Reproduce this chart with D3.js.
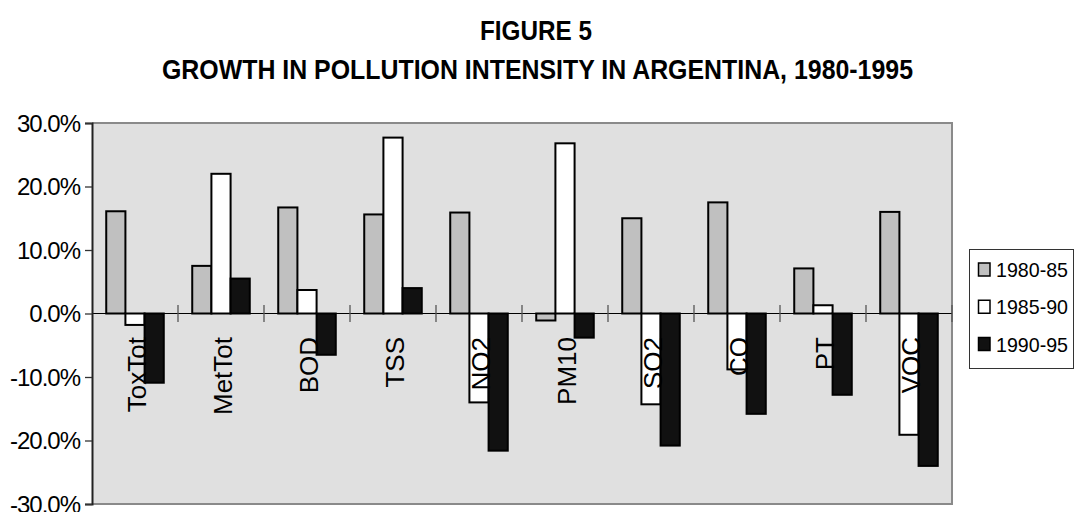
<!DOCTYPE html>
<html>
<head>
<meta charset="utf-8">
<script src="https://cdn.jsdelivr.net/npm/d3@7"></script>
<style>
  html, body { margin: 0; padding: 0; background: #fff; }
  svg { display: block; }
  text { font-family: "Liberation Sans", Arial, sans-serif; fill: #000; }
</style>
</head>
<body>
<svg id="chart" width="1074" height="512"></svg>
<script>
// Pollutant categories and growth in pollution intensity per period (fractions)
const categories = ["ToxTot", "MetTot", "BOD", "TSS", "NO2", "PM10", "SO2", "CO", "PT", "VOC"];
const seriesNames = ["1980-85", "1985-90", "1990-95"];
const growth1980_85 = [0.161, 0.075, 0.167, 0.156, 0.159, -0.011, 0.150, 0.175, 0.071, 0.160];
const growth1985_90 = [-0.018, 0.220, 0.037, 0.277, -0.140, 0.268, -0.143, -0.088, 0.013, -0.191];
const growth1990_95 = [-0.109, 0.055, -0.065, 0.040, -0.216, -0.038, -0.208, -0.158, -0.128, -0.240];
const yTickValues = [-0.3, -0.2, -0.1, 0, 0.1, 0.2, 0.3];
const titleLines = ["FIGURE 5", "GROWTH IN POLLUTION INTENSITY IN ARGENTINA, 1980-1995"];

const seriesValues = [growth1980_85, growth1985_90, growth1990_95];
const seriesFill = ["#c0c0c0", "#ffffff", "#111111"];

const svg = d3.select("#chart");
const plot = { left: 92, right: 952, top: 123, bottom: 504 };

// Titles (condensed bold type)
const titleSpecs = [
  { text: titleLines[0], cx: 536, y: 40, len: 112 },
  { text: titleLines[1], cx: 537.5, y: 79, len: 751 }
];
svg.selectAll("text.title").data(titleSpecs).join("text")
  .attr("class", "title")
  .attr("x", d => d.cx - d.len / 2)
  .attr("y", d => d.y)
  .attr("textLength", d => d.len)
  .attr("lengthAdjust", "spacingAndGlyphs")
  .style("font-size", "28px")
  .style("font-weight", "bold")
  .text(d => d.text);

// Scales
const x = d3.scaleBand().domain(categories)
  .range([plot.left, plot.right]).paddingInner(0.331).paddingOuter(0.1655);
const xSeries = d3.scaleBand().domain(d3.range(seriesNames.length))
  .range([0, x.bandwidth()]).padding(0);
const y = d3.scaleLinear().domain([-0.3, 0.3]).range([plot.bottom, plot.top]);

// Plot area
svg.append("rect")
  .attr("x", plot.left).attr("y", plot.top)
  .attr("width", plot.right - plot.left).attr("height", plot.bottom - plot.top)
  .attr("fill", "#e0e0e0");

// Plot border (top, right, bottom)
svg.append("path")
  .attr("d", `M${plot.left},${plot.top}H${plot.right}V${plot.bottom}H${plot.left}`)
  .attr("fill", "none").attr("stroke", "#8a8a8a").attr("stroke-width", 2);

// Zero line
svg.append("line")
  .attr("x1", plot.left).attr("x2", plot.right)
  .attr("y1", y(0)).attr("y2", y(0))
  .attr("stroke", "#000").attr("stroke-width", 1);

// Category boundary ticks along the zero line
const step = x.step();
svg.selectAll("line.ctick").data(d3.range(1, categories.length + 1)).join("line")
  .attr("class", "ctick")
  .attr("x1", i => plot.left + i * step).attr("x2", i => plot.left + i * step)
  .attr("y1", y(0) - 8.5).attr("y2", y(0) + 8.5)
  .attr("stroke", "#555").attr("stroke-width", 1.3);

// Bars
const barData = [];
categories.forEach((c, ci) => {
  seriesValues.forEach((vals, si) => barData.push({ c, si, v: vals[ci] }));
});
svg.append("g").selectAll("rect").data(barData).join("rect")
  .attr("x", d => x(d.c) + xSeries(d.si))
  .attr("y", d => y(Math.max(0, d.v)))
  .attr("width", xSeries.bandwidth())
  .attr("height", d => Math.abs(y(d.v) - y(0)))
  .attr("fill", d => seriesFill[d.si])
  .attr("stroke", "#000").attr("stroke-width", 2);

// Y axis
const yAxis = d3.axisLeft(y)
  .tickValues(yTickValues)
  .tickFormat(d => d3.format(".1%")(d).replace("\u2212", "-"))
  .tickSize(7).tickPadding(5);
const gy = svg.append("g").attr("transform", `translate(${plot.left},0)`).call(yAxis);
gy.select(".domain").attr("stroke", "#222").attr("stroke-width", 2);
gy.selectAll(".tick line").attr("stroke", "#333").attr("stroke-width", 1.3);
gy.selectAll(".tick text")
  .attr("dy", "0.35em")
  .style("font-size", "24px")
  .style("letter-spacing", "-1px")
  .style("font-family", "'Liberation Sans', Arial, sans-serif");

// Category labels, rotated, below the zero line
svg.selectAll("text.cat").data(categories).join("text")
  .attr("class", "cat")
  .attr("transform", d => `translate(${x(d) + x.bandwidth() / 2 + 11},337) rotate(-90)`)
  .attr("text-anchor", "end")
  .style("font-size", "26px")
  .text(d => d);

// Legend
const legend = svg.append("g");
legend.append("rect")
  .attr("x", 969.5).attr("y", 249.5).attr("width", 104).attr("height", 119)
  .attr("fill", "#fff").attr("stroke", "#333").attr("stroke-width", 1);
const legendRowY = d3.scalePoint().domain(seriesNames).range([269.5, 344]);
const rows = legend.selectAll("g.row").data(seriesNames).join("g").attr("class", "row");
rows.append("rect")
  .attr("x", 978.5).attr("y", d => legendRowY(d) - 6.5)
  .attr("width", 11.5).attr("height", 13)
  .attr("fill", (d, i) => seriesFill[i])
  .attr("stroke", "#000").attr("stroke-width", 1.5);
rows.append("text")
  .attr("x", 996).attr("y", d => legendRowY(d) + 7.5)
  .attr("textLength", 72).attr("lengthAdjust", "spacingAndGlyphs")
  .style("font-size", "21px")
  .text(d => d);
</script>
</body>
</html>
